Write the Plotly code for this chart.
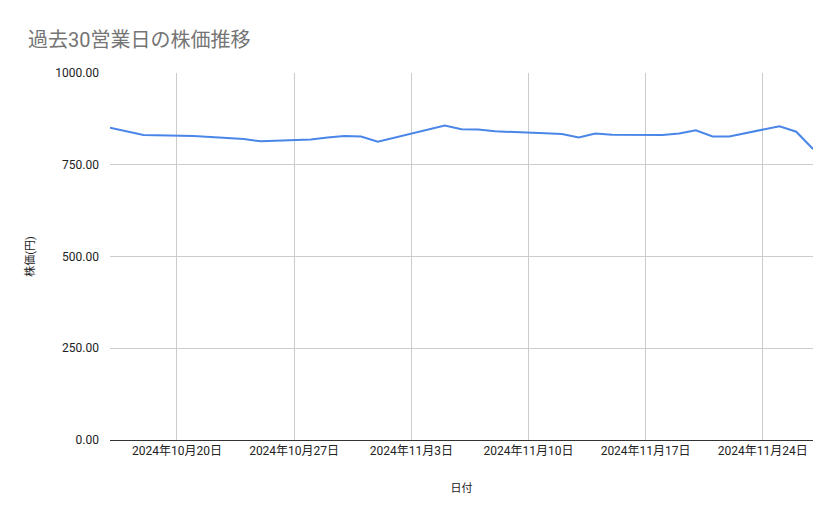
import plotly.graph_objects as go

dates = [
    "2024-10-16", "2024-10-17", "2024-10-18",
    "2024-10-21", "2024-10-22", "2024-10-23", "2024-10-24", "2024-10-25",
    "2024-10-28", "2024-10-29", "2024-10-30", "2024-10-31", "2024-11-01",
    "2024-11-05", "2024-11-06", "2024-11-07", "2024-11-08",
    "2024-11-11", "2024-11-12", "2024-11-13", "2024-11-14", "2024-11-15",
    "2024-11-18", "2024-11-19", "2024-11-20", "2024-11-21", "2024-11-22",
    "2024-11-25", "2024-11-26", "2024-11-27",
]
prices = [
    851, 840, 831,
    828, 826, 822, 820, 814,
    819, 824, 828, 827, 813,
    857, 847, 846, 841,
    836, 834, 824, 835, 832,
    831, 835, 844, 827, 827,
    855, 840, 793,
]
tick_dates = ["2024-10-20", "2024-10-27", "2024-11-03", "2024-11-10", "2024-11-17", "2024-11-24"]
tick_labels = ["2024年10月20日", "2024年10月27日", "2024年11月3日",
               "2024年11月10日", "2024年11月17日", "2024年11月24日"]
y_ticks = [0, 250, 500, 750, 1000]

FONT = "Roboto, 'Noto Sans CJK JP', sans-serif"

W, H = 831, 511

fig = go.Figure()
fig.add_trace(go.Scatter(
    x=dates, y=prices, mode="lines",
    line=dict(color="#4a86e8", width=2),
    hoverinfo="x+y", showlegend=False,
))

fig.update_layout(
    width=W, height=H,
    margin=dict(l=102, r=26, t=65, b=79),
    paper_bgcolor="white", plot_bgcolor="white",
    font=dict(family=FONT, size=12, color="#222222"),
    title=dict(
        text="過去30営業日の株価推移",
        font=dict(family=FONT, size=20, color="#757575"),
        xref="container", yref="container",
        x=20 / W, xanchor="left",
        y=1 - 32 / H, yanchor="middle",
    ),
    xaxis=dict(
        type="date",
        range=["2024-10-16", "2024-11-27"],
        tickvals=tick_dates, ticktext=tick_labels,
        showgrid=True, gridcolor="#cccccc", gridwidth=1,
        showline=True, linecolor="#333333", linewidth=1,
        ticks="", zeroline=False,
        tickfont=dict(size=12, color="#222222"),
        title=dict(text="日付", font=dict(size=11, color="#222222"), standoff=26),
    ),
    yaxis=dict(
        range=[0, 1000],
        tickvals=y_ticks, tickformat=".2f",
        showgrid=True, gridcolor="#cccccc", gridwidth=1,
        zeroline=False, ticks="", ticklabelstandoff=10,
        tickfont=dict(size=12, color="#222222"),
        title=dict(text="株価(円)", font=dict(size=11, color="#222222"), standoff=18),
    ),
)

fig.write_html("out.html")
